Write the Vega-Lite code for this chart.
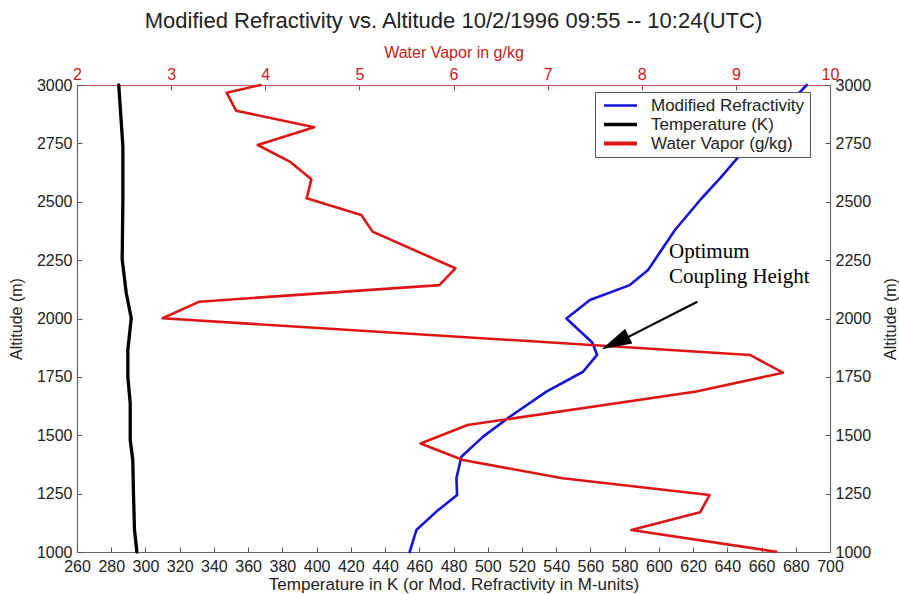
{
  "$schema": "https://vega.github.io/schema/vega-lite/v6.json",
  "width": 753,
  "height": 467,
  "autosize": "none",
  "padding": {"left": 77, "top": 85, "right": 69, "bottom": 42},
  "background": "white",
  "title": {
    "text": "Modified Refractivity vs. Altitude 10/2/1996 09:55 -- 10:24(UTC)",
    "font": "Liberation Sans",
    "fontSize": 22,
    "fontWeight": "normal",
    "color": "#222222",
    "anchor": "middle",
    "offset": 11
  },
  "config": {
    "view": {"stroke": null},
    "axis": {
      "labelFont": "Liberation Sans",
      "titleFont": "Liberation Sans",
      "labelFontSize": 16,
      "titleFontSize": 16,
      "titleFontWeight": "normal",
      "labelColor": "#222222",
      "titleColor": "#222222",
      "domainColor": "#666666",
      "tickColor": "#555555",
      "grid": false,
      "labelOverlap": false,
      "labelFlush": false,
      "tickSize": -5,
      "domainWidth": 1.2,
      "format": "d"
    },
    "legend": {
      "labelFont": "Liberation Sans",
      "labelFontSize": 17,
      "labelColor": "#222222"
    }
  },
  "datasets": {
    "profiles": [
      {"series": "Temperature (K)", "alt": 3000, "value": 284.4},
      {"series": "Temperature (K)", "alt": 2738, "value": 286.8},
      {"series": "Temperature (K)", "alt": 2503, "value": 286.8},
      {"series": "Temperature (K)", "alt": 2253, "value": 286.4},
      {"series": "Temperature (K)", "alt": 2108, "value": 288.8},
      {"series": "Temperature (K)", "alt": 2001, "value": 291.7},
      {"series": "Temperature (K)", "alt": 1865, "value": 289.7},
      {"series": "Temperature (K)", "alt": 1751, "value": 289.7},
      {"series": "Temperature (K)", "alt": 1637, "value": 291.1},
      {"series": "Temperature (K)", "alt": 1480, "value": 291.1},
      {"series": "Temperature (K)", "alt": 1394, "value": 292.6},
      {"series": "Temperature (K)", "alt": 1251, "value": 293.0},
      {"series": "Temperature (K)", "alt": 1094, "value": 293.6},
      {"series": "Temperature (K)", "alt": 1000, "value": 295.0},
      {"series": "Modified Refractivity", "alt": 3000, "value": 686.4},
      {"series": "Modified Refractivity", "alt": 2700, "value": 647.4},
      {"series": "Modified Refractivity", "alt": 2600, "value": 635.7},
      {"series": "Modified Refractivity", "alt": 2515, "value": 625.0},
      {"series": "Modified Refractivity", "alt": 2379, "value": 609.4},
      {"series": "Modified Refractivity", "alt": 2208, "value": 593.7},
      {"series": "Modified Refractivity", "alt": 2143, "value": 583.0},
      {"series": "Modified Refractivity", "alt": 2079, "value": 559.7},
      {"series": "Modified Refractivity", "alt": 2000, "value": 546.0},
      {"series": "Modified Refractivity", "alt": 1896, "value": 561.2},
      {"series": "Modified Refractivity", "alt": 1844, "value": 563.9},
      {"series": "Modified Refractivity", "alt": 1772, "value": 555.7},
      {"series": "Modified Refractivity", "alt": 1687, "value": 534.3},
      {"series": "Modified Refractivity", "alt": 1579, "value": 512.9},
      {"series": "Modified Refractivity", "alt": 1494, "value": 497.3},
      {"series": "Modified Refractivity", "alt": 1408, "value": 484.6},
      {"series": "Modified Refractivity", "alt": 1316, "value": 481.7},
      {"series": "Modified Refractivity", "alt": 1244, "value": 482.1},
      {"series": "Modified Refractivity", "alt": 1173, "value": 470.0},
      {"series": "Modified Refractivity", "alt": 1094, "value": 458.3},
      {"series": "Modified Refractivity", "alt": 1000, "value": 454.4}
    ],
    "vapor": [
      {"series": "Water Vapor (g/kg)", "alt": 3000, "wv": 3.95},
      {"series": "Water Vapor (g/kg)", "alt": 2967, "wv": 3.59},
      {"series": "Water Vapor (g/kg)", "alt": 2890, "wv": 3.69},
      {"series": "Water Vapor (g/kg)", "alt": 2819, "wv": 4.52},
      {"series": "Water Vapor (g/kg)", "alt": 2743, "wv": 3.92},
      {"series": "Water Vapor (g/kg)", "alt": 2672, "wv": 4.26},
      {"series": "Water Vapor (g/kg)", "alt": 2596, "wv": 4.49},
      {"series": "Water Vapor (g/kg)", "alt": 2515, "wv": 4.44},
      {"series": "Water Vapor (g/kg)", "alt": 2443, "wv": 5.02},
      {"series": "Water Vapor (g/kg)", "alt": 2372, "wv": 5.14},
      {"series": "Water Vapor (g/kg)", "alt": 2215, "wv": 6.02},
      {"series": "Water Vapor (g/kg)", "alt": 2143, "wv": 5.85},
      {"series": "Water Vapor (g/kg)", "alt": 2072, "wv": 3.30},
      {"series": "Water Vapor (g/kg)", "alt": 2001, "wv": 2.91},
      {"series": "Water Vapor (g/kg)", "alt": 1844, "wv": 9.15},
      {"series": "Water Vapor (g/kg)", "alt": 1768, "wv": 9.50},
      {"series": "Water Vapor (g/kg)", "alt": 1687, "wv": 8.58},
      {"series": "Water Vapor (g/kg)", "alt": 1544, "wv": 6.15},
      {"series": "Water Vapor (g/kg)", "alt": 1465, "wv": 5.65},
      {"series": "Water Vapor (g/kg)", "alt": 1394, "wv": 6.10},
      {"series": "Water Vapor (g/kg)", "alt": 1316, "wv": 7.16},
      {"series": "Water Vapor (g/kg)", "alt": 1244, "wv": 8.72},
      {"series": "Water Vapor (g/kg)", "alt": 1170, "wv": 8.62},
      {"series": "Water Vapor (g/kg)", "alt": 1094, "wv": 7.89},
      {"series": "Water Vapor (g/kg)", "alt": 1001, "wv": 9.43}
    ],
    "notes": [
      {"label": "Optimum", "value": 605.9, "alt": 2259},
      {"label": "Coupling Height", "value": 605.9, "alt": 2152}
    ],
    "arrow": [
      {"value": 622.5, "alt": 2072, "value_end": 577.0, "alt_end": 1902, "head_value": 574.5, "head_alt": 1896}
    ]
  },
  "layer": [
    {
      "data": {"name": "profiles"},
      "mark": {"type": "line", "strokeJoin": "round", "strokeCap": "round"},
      "encoding": {
        "x": {
          "field": "value",
          "type": "quantitative",
          "scale": {"domain": [260, 700], "zero": false, "nice": false},
          "axis": {
            "orient": "bottom",
            "title": "Temperature in K (or Mod. Refractivity in M-units)",
            "values": [260, 280, 300, 320, 340, 360, 380, 400, 420, 440, 460, 480, 500, 520, 540, 560, 580, 600, 620, 640, 660, 680, 700],
            "labelOverlap": false,
            "labelPadding": 11,
            "titlePadding": 2,
            "titleFontSize": 17
          }
        },
        "y": {
          "field": "alt",
          "type": "quantitative",
          "scale": {"domain": [1000, 3000], "zero": false, "nice": false},
          "axis": {
            "orient": "left",
            "title": "Altitude (m)",
            "values": [1000, 1250, 1500, 1750, 2000, 2250, 2500, 2750, 3000],
            "labelOverlap": false,
            "labelPadding": 10,
            "titlePadding": 12
          }
        },
        "order": {"field": "alt", "type": "quantitative"},
        "color": {
          "field": "series",
          "type": "nominal",
          "scale": {
            "domain": ["Modified Refractivity", "Temperature (K)", "Water Vapor (g/kg)"],
            "range": ["#1414d8", "#000000", "#dd1515"]
          },
          "legend": {
            "title": null,
            "orient": "none",
            "legendX": 518,
            "legendY": 7,
            "symbolType": "M-3,0L3,0",
            "symbolSize": 121,
            "symbolOffset": 12,
            "symbolStrokeWidth": 2.5,
            "labelOffset": 22,
            "padding": 5,
            "rowPadding": 1,
            "strokeColor": "#555555",
            "fillColor": "white"
          }
        },
        "strokeWidth": {
          "field": "series",
          "type": "nominal",
          "scale": {
            "domain": ["Modified Refractivity", "Temperature (K)", "Water Vapor (g/kg)"],
            "range": [2.6, 4, 2.6]
          },
          "legend": null
        }
      }
    },
    {
      "data": {"name": "vapor"},
      "mark": {"type": "line", "strokeJoin": "round", "strokeCap": "round"},
      "encoding": {
        "x": {
          "field": "wv",
          "type": "quantitative",
          "scale": {"domain": [2, 10], "zero": false, "nice": false},
          "axis": {
            "orient": "top",
            "title": "Water Vapor in g/kg",
            "values": [2, 3, 4, 5, 6, 7, 8, 9, 10],
            "labelOverlap": false,
            "labelColor": "#cc1a1a",
            "titleColor": "#cc1a1a",
            "tickColor": "#cc3333",
            "domainColor": "#cc5555",
            "labelPadding": 8,
            "titlePadding": 6
          }
        },
        "y": {
          "field": "alt",
          "type": "quantitative",
          "scale": {"domain": [1000, 3000], "zero": false, "nice": false},
          "axis": {
            "orient": "right",
            "title": "Altitude (m)",
            "titleAngle": 270,
            "values": [1000, 1250, 1500, 1750, 2000, 2250, 2500, 2750, 3000],
            "labelOverlap": false,
            "labelPadding": 10,
            "titlePadding": 28
          }
        },
        "order": {"field": "alt", "type": "quantitative"},
        "color": {"field": "series", "type": "nominal"},
        "strokeWidth": {"value": 2.6}
      }
    },
    {
      "data": {"name": "notes"},
      "mark": {"type": "text", "align": "left", "baseline": "alphabetic", "font": "Liberation Serif", "fontSize": 21, "color": "#000000"},
      "encoding": {
        "x": {"field": "value", "type": "quantitative", "scale": {"domain": [260, 700], "zero": false, "nice": false}, "axis": null},
        "y": {"field": "alt", "type": "quantitative", "axis": null},
        "text": {"field": "label"}
      }
    },
    {
      "data": {"name": "arrow"},
      "mark": {"type": "rule", "color": "#000000", "strokeWidth": 2.2},
      "encoding": {
        "x": {"field": "value", "type": "quantitative", "scale": {"domain": [260, 700], "zero": false, "nice": false}, "axis": null},
        "y": {"field": "alt", "type": "quantitative", "axis": null},
        "x2": {"field": "value_end"},
        "y2": {"field": "alt_end"}
      }
    },
    {
      "data": {"name": "arrow"},
      "mark": {"type": "point", "shape": "M0,-1L0.55,1L-0.55,1Z", "angle": 244, "size": 900, "filled": true, "color": "#000000", "opacity": 1, "strokeWidth": 0},
      "encoding": {
        "x": {"field": "head_value", "type": "quantitative", "scale": {"domain": [260, 700], "zero": false, "nice": false}, "axis": null},
        "y": {"field": "head_alt", "type": "quantitative", "axis": null}
      }
    }
  ],
  "resolve": {"scale": {"x": "independent"}, "axis": {"y": "independent"}}
}
